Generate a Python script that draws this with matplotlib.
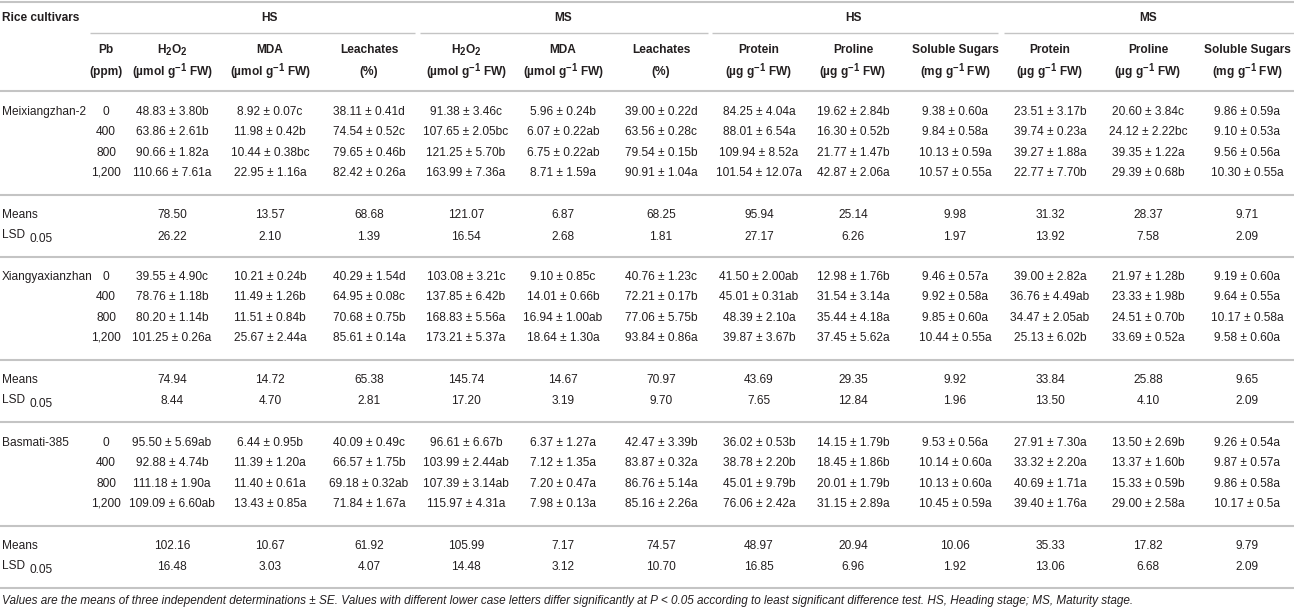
import matplotlib
matplotlib.use("Agg")
import matplotlib.pyplot as plt

try:
    import matplotlib._mathtext as _mt
    _mt.SHRINK_FACTOR = 0.8
except Exception:
    pass

plt.rcParams['font.family'] = ['Liberation Sans', 'DejaVu Sans']
plt.rcParams['mathtext.fontset'] = 'custom'
plt.rcParams['mathtext.rm'] = 'Liberation Sans'
plt.rcParams['mathtext.it'] = 'Liberation Sans:italic'
plt.rcParams['mathtext.bf'] = 'Liberation Sans:bold'

# ---------------- data ----------------
group_labels = ["HS", "MS", "HS", "MS"]
header_line1 = ["Pb", "H$_\\mathbf{2}$O$_\\mathbf{2}$", "MDA", "Leachates",
                "H$_\\mathbf{2}$O$_\\mathbf{2}$", "MDA", "Leachates",
                "Protein", "Proline", "Soluble Sugars",
                "Protein", "Proline", "Soluble Sugars"]
header_line2 = ["(ppm)", "(µmol g$^{\\mathbf{-1}}$ FW)", "(µmol g$^{\\mathbf{-1}}$ FW)", "(%)",
                "(µmol g$^{\\mathbf{-1}}$ FW)", "(µmol g$^{\\mathbf{-1}}$ FW)", "(%)",
                "(µg g$^{\\mathbf{-1}}$ FW)", "(µg g$^{\\mathbf{-1}}$ FW)", "(mg g$^{\\mathbf{-1}}$ FW)",
                "(µg g$^{\\mathbf{-1}}$ FW)", "(µg g$^{\\mathbf{-1}}$ FW)", "(mg g$^{\\mathbf{-1}}$ FW)"]
cultivars = ["Meixiangzhan-2", "Xiangyaxianzhan", "Basmati-385"]
pb_levels = ["0", "400", "800", "1,200"]

meixiangzhan_rows = [
    ["48.83 ± 3.80b", "8.92 ± 0.07c", "38.11 ± 0.41d", "91.38 ± 3.46c", "5.96 ± 0.24b", "39.00 ± 0.22d",
     "84.25 ± 4.04a", "19.62 ± 2.84b", "9.38 ± 0.60a", "23.51 ± 3.17b", "20.60 ± 3.84c", "9.86 ± 0.59a"],
    ["63.86 ± 2.61b", "11.98 ± 0.42b", "74.54 ± 0.52c", "107.65 ± 2.05bc", "6.07 ± 0.22ab", "63.56 ± 0.28c",
     "88.01 ± 6.54a", "16.30 ± 0.52b", "9.84 ± 0.58a", "39.74 ± 0.23a", "24.12 ± 2.22bc", "9.10 ± 0.53a"],
    ["90.66 ± 1.82a", "10.44 ± 0.38bc", "79.65 ± 0.46b", "121.25 ± 5.70b", "6.75 ± 0.22ab", "79.54 ± 0.15b",
     "109.94 ± 8.52a", "21.77 ± 1.47b", "10.13 ± 0.59a", "39.27 ± 1.88a", "39.35 ± 1.22a", "9.56 ± 0.56a"],
    ["110.66 ± 7.61a", "22.95 ± 1.16a", "82.42 ± 0.26a", "163.99 ± 7.36a", "8.71 ± 1.59a", "90.91 ± 1.04a",
     "101.54 ± 12.07a", "42.87 ± 2.06a", "10.57 ± 0.55a", "22.77 ± 7.70b", "29.39 ± 0.68b", "10.30 ± 0.55a"],
]
xiangyaxianzhan_rows = [
    ["39.55 ± 4.90c", "10.21 ± 0.24b", "40.29 ± 1.54d", "103.08 ± 3.21c", "9.10 ± 0.85c", "40.76 ± 1.23c",
     "41.50 ± 2.00ab", "12.98 ± 1.76b", "9.46 ± 0.57a", "39.00 ± 2.82a", "21.97 ± 1.28b", "9.19 ± 0.60a"],
    ["78.76 ± 1.18b", "11.49 ± 1.26b", "64.95 ± 0.08c", "137.85 ± 6.42b", "14.01 ± 0.66b", "72.21 ± 0.17b",
     "45.01 ± 0.31ab", "31.54 ± 3.14a", "9.92 ± 0.58a", "36.76 ± 4.49ab", "23.33 ± 1.98b", "9.64 ± 0.55a"],
    ["80.20 ± 1.14b", "11.51 ± 0.84b", "70.68 ± 0.75b", "168.83 ± 5.56a", "16.94 ± 1.00ab", "77.06 ± 5.75b",
     "48.39 ± 2.10a", "35.44 ± 4.18a", "9.85 ± 0.60a", "34.47 ± 2.05ab", "24.51 ± 0.70b", "10.17 ± 0.58a"],
    ["101.25 ± 0.26a", "25.67 ± 2.44a", "85.61 ± 0.14a", "173.21 ± 5.37a", "18.64 ± 1.30a", "93.84 ± 0.86a",
     "39.87 ± 3.67b", "37.45 ± 5.62a", "10.44 ± 0.55a", "25.13 ± 6.02b", "33.69 ± 0.52a", "9.58 ± 0.60a"],
]
basmati_rows = [
    ["95.50 ± 5.69ab", "6.44 ± 0.95b", "40.09 ± 0.49c", "96.61 ± 6.67b", "6.37 ± 1.27a", "42.47 ± 3.39b",
     "36.02 ± 0.53b", "14.15 ± 1.79b", "9.53 ± 0.56a", "27.91 ± 7.30a", "13.50 ± 2.69b", "9.26 ± 0.54a"],
    ["92.88 ± 4.74b", "11.39 ± 1.20a", "66.57 ± 1.75b", "103.99 ± 2.44ab", "7.12 ± 1.35a", "83.87 ± 0.32a",
     "38.78 ± 2.20b", "18.45 ± 1.86b", "10.14 ± 0.60a", "33.32 ± 2.20a", "13.37 ± 1.60b", "9.87 ± 0.57a"],
    ["111.18 ± 1.90a", "11.40 ± 0.61a", "69.18 ± 0.32ab", "107.39 ± 3.14ab", "7.20 ± 0.47a", "86.76 ± 5.14a",
     "45.01 ± 9.79b", "20.01 ± 1.79b", "10.13 ± 0.60a", "40.69 ± 1.71a", "15.33 ± 0.59b", "9.86 ± 0.58a"],
    ["109.09 ± 6.60ab", "13.43 ± 0.85a", "71.84 ± 1.67a", "115.97 ± 4.31a", "7.98 ± 0.13a", "85.16 ± 2.26a",
     "76.06 ± 2.42a", "31.15 ± 2.89a", "10.45 ± 0.59a", "39.40 ± 1.76a", "29.00 ± 2.58a", "10.17 ± 0.5a"],
]
meixiangzhan_means = ["78.50", "13.57", "68.68", "121.07", "6.87", "68.25", "95.94", "25.14", "9.98", "31.32", "28.37", "9.71"]
meixiangzhan_lsd = ["26.22", "2.10", "1.39", "16.54", "2.68", "1.81", "27.17", "6.26", "1.97", "13.92", "7.58", "2.09"]
xiangyaxianzhan_means = ["74.94", "14.72", "65.38", "145.74", "14.67", "70.97", "43.69", "29.35", "9.92", "33.84", "25.88", "9.65"]
xiangyaxianzhan_lsd = ["8.44", "4.70", "2.81", "17.20", "3.19", "9.70", "7.65", "12.84", "1.96", "13.50", "4.10", "2.09"]
basmati_means = ["102.16", "10.67", "61.92", "105.99", "7.17", "74.57", "48.97", "20.94", "10.06", "35.33", "17.82", "9.79"]
basmati_lsd = ["16.48", "3.03", "4.07", "14.48", "3.12", "10.70", "16.85", "6.96", "1.92", "13.06", "6.68", "2.09"]

caption = ("Values are the means of three independent determinations ± SE. Values with different lower case "
           "letters differ significantly at P < 0.05 according to least significant difference test. "
           "HS, Heading stage; MS, Maturity stage.")

# ---------------- layout ----------------
W, H = 1294, 609
fig = plt.figure(figsize=(W / 100, H / 100), dpi=100)
ax = fig.add_axes([0, 0, 1, 1])
ax.set_xlim(0, W)
ax.set_ylim(H, 0)
ax.axis('off')

FS = 8.6
TXT = '#231f20'
LINE = '#c4c4c4'

col_x = [106, 172, 270, 369, 466, 563, 661, 759, 853, 955, 1050, 1148, 1247]
group_x = [270, 563, 853, 1148]
group_spans = [(90, 415), (420, 708), (712, 998), (1004, 1294)]


def hline(y, x0=0, x1=W, lw=1.5):
    ax.plot([x0, x1], [y, y], color=LINE, lw=lw, solid_capstyle='butt')


def txt(x, y, s, ha='center', fs=FS, **kw):
    ax.text(x, y, s, ha=ha, va='center', fontsize=fs, color=TXT, **kw)


# header
hline(2)
txt(2, 18, "Rice cultivars", ha='left', fontweight='bold')
for gx, g in zip(group_x, group_labels):
    txt(gx, 18, g, fontweight='bold')
for a, b in group_spans:
    hline(33, a, b, lw=1.0)
for cx, h1, h2 in zip(col_x, header_line1, header_line2):
    txt(cx, 50, h1, fontweight='bold')
    txt(cx, 72, h2, fontweight='bold')
hline(91)

blocks = [
    (meixiangzhan_rows, meixiangzhan_means, meixiangzhan_lsd),
    (xiangyaxianzhan_rows, xiangyaxianzhan_means, xiangyaxianzhan_lsd),
    (basmati_rows, basmati_means, basmati_lsd),
]
block_top = [91, 256, 422]
row_dy = 20.3
for bi, (rows, means, lsd) in enumerate(blocks):
    top = block_top[bi]
    y0 = top + 21
    txt(2, y0, cultivars[bi], ha='left')
    for ri, row in enumerate(rows):
        y = y0 + ri * row_dy
        txt(col_x[0], y, pb_levels[ri])
        for cx, v in zip(col_x[1:], row):
            txt(cx, y, v)
    sep = top + 104
    hline(sep)
    ym = sep + 20
    yl = sep + 41.5
    txt(2, ym, "Means", ha='left')
    txt(2, yl - 1.5, "LSD", ha='left', fs=FS)
    txt(30, yl + 2.5, "0.05", ha='left')
    for cx, v in zip(col_x[1:], means):
        txt(cx, ym, v)
    for cx, v in zip(col_x[1:], lsd):
        txt(cx, yl, v)
    hline(sep + 62 if bi < 2 else 588)

ax.text(2, 601, caption, ha='left', va='center', fontsize=8.5, color=TXT, style='italic')

fig.savefig("out.png", dpi=100)
